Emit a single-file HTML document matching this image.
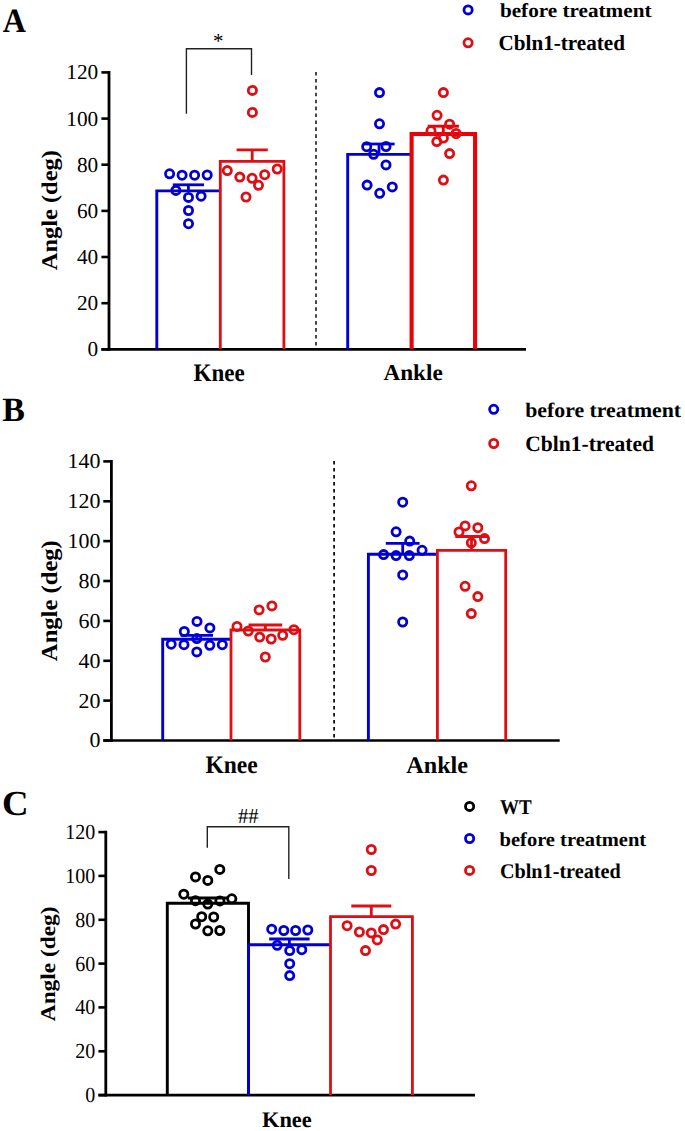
<!DOCTYPE html>
<html><head><meta charset="utf-8"><title>Figure</title>
<style>
html,body{margin:0;padding:0;background:#fff;}
body{width:685px;height:1131px;overflow:hidden;}
svg{display:block;}
text{font-family:"Liberation Serif",serif;fill:#000;text-rendering:geometricPrecision;}
</style></head>
<body>
<svg width="685" height="1131" viewBox="0 0 685 1131">
<rect width="685" height="1131" fill="#fff"/>
<text transform="translate(2.80 32.40) scale(1.0035 1.0672)" font-size="32" font-weight="bold">A</text>
<circle cx="468.1" cy="9.9" r="4.1" fill="none" stroke="#0000d6" stroke-width="2.8"/>
<circle cx="468.1" cy="42.8" r="4.1" fill="none" stroke="#dd0e14" stroke-width="2.8"/>
<text transform="translate(499.89 17.00) scale(1.0093 0.9403)" font-size="21" font-weight="bold">before treatment</text>
<text transform="translate(498.50 50.20) scale(1.0067 1.0323)" font-size="21" font-weight="bold">Cbln1-treated</text>
<line x1="109.0" y1="71.1" x2="109.0" y2="350.7" stroke="#000" stroke-width="2.8" />
<line x1="101.4" y1="349.3" x2="109.0" y2="349.3" stroke="#000" stroke-width="2.6" />
<line x1="101.4" y1="303.2" x2="109.0" y2="303.2" stroke="#000" stroke-width="2.6" />
<line x1="101.4" y1="257.0" x2="109.0" y2="257.0" stroke="#000" stroke-width="2.6" />
<line x1="101.4" y1="210.9" x2="109.0" y2="210.9" stroke="#000" stroke-width="2.6" />
<line x1="101.4" y1="164.7" x2="109.0" y2="164.7" stroke="#000" stroke-width="2.6" />
<line x1="101.4" y1="118.6" x2="109.0" y2="118.6" stroke="#000" stroke-width="2.6" />
<line x1="101.4" y1="72.4" x2="109.0" y2="72.4" stroke="#000" stroke-width="2.6" />
<text transform="translate(98.21 356.29) scale(1.02 1.02)" font-size="20.9" text-anchor="end">0</text>
<text transform="translate(98.21 310.14) scale(1.02 1.02)" font-size="20.9" text-anchor="end">20</text>
<text transform="translate(98.21 263.99) scale(1.02 1.02)" font-size="20.9" text-anchor="end">40</text>
<text transform="translate(98.21 217.84) scale(1.02 1.02)" font-size="20.9" text-anchor="end">60</text>
<text transform="translate(98.21 171.69) scale(1.02 1.02)" font-size="20.9" text-anchor="end">80</text>
<text transform="translate(98.21 125.54) scale(1.02 1.02)" font-size="20.9" text-anchor="end">100</text>
<text transform="translate(98.21 79.39) scale(1.02 1.02)" font-size="20.9" text-anchor="end">120</text>
<line x1="101.4" y1="349.3" x2="526.0" y2="349.3" stroke="#000" stroke-width="2.7" />
<text transform="translate(56.81 270.17) rotate(-90) scale(1.0169 0.9359)" font-size="24" font-weight="bold">Angle (deg)</text>
<line x1="316.0" y1="72.0" x2="316.0" y2="347.5" stroke="#333" stroke-width="1.8" stroke-dasharray="3.6 3.32"/>
<path d="M186.4 113.7 V48.7 H251.5 V74.9" fill="none" stroke="#222" stroke-width="1.4"/>
<text transform="translate(213.12 47.91) scale(1.0447 1.0678)" font-size="20" font-weight="normal">*</text>
<path d="M156.8 349.3 V190.9 H220.3" fill="none" stroke="#0000d6" stroke-width="2.9" stroke-linejoin="miter" stroke-linecap="butt"/>
<path d="M220.3 349.3 V161.3 H283.9 V349.3" fill="none" stroke="#dd0e14" stroke-width="2.8" stroke-linejoin="miter" stroke-linecap="butt"/>
<path d="M347.7 349.3 V154.4 H411.7" fill="none" stroke="#0000d6" stroke-width="2.9" stroke-linejoin="miter" stroke-linecap="butt"/>
<path d="M411.6 349.3 V134.0 H475.1 V349.3" fill="none" stroke="#ec0008" stroke-width="4.1" stroke-linejoin="miter" stroke-linecap="butt"/>
<line x1="172.8" y1="184.8" x2="204.0" y2="184.8" stroke="#0000d6" stroke-width="2.8" /><line x1="188.4" y1="184.8" x2="188.4" y2="190.9" stroke="#0000d6" stroke-width="2.8" />
<line x1="236.6" y1="149.9" x2="267.8" y2="149.9" stroke="#dd0e14" stroke-width="2.8" /><line x1="252.2" y1="149.9" x2="252.2" y2="161.3" stroke="#dd0e14" stroke-width="2.8" />
<line x1="363.4" y1="144.0" x2="394.6" y2="144.0" stroke="#0000d6" stroke-width="2.8" /><line x1="379.0" y1="144.0" x2="379.0" y2="154.4" stroke="#0000d6" stroke-width="2.8" />
<line x1="427.7" y1="126.2" x2="458.9" y2="126.2" stroke="#ec0008" stroke-width="2.9" /><line x1="443.3" y1="126.2" x2="443.3" y2="134.0" stroke="#ec0008" stroke-width="2.9" />
<circle cx="169.6" cy="173.8" r="4.1" fill="none" stroke="#0000d6" stroke-width="2.8"/>
<circle cx="182.1" cy="175.2" r="4.1" fill="none" stroke="#0000d6" stroke-width="2.8"/>
<circle cx="194.6" cy="175.2" r="4.1" fill="none" stroke="#0000d6" stroke-width="2.8"/>
<circle cx="207.2" cy="175.0" r="4.1" fill="none" stroke="#0000d6" stroke-width="2.8"/>
<circle cx="175.9" cy="190.4" r="4.1" fill="none" stroke="#0000d6" stroke-width="2.8"/>
<circle cx="188.5" cy="197.4" r="4.1" fill="none" stroke="#0000d6" stroke-width="2.8"/>
<circle cx="201.1" cy="196.2" r="4.1" fill="none" stroke="#0000d6" stroke-width="2.8"/>
<circle cx="188.5" cy="210.5" r="4.1" fill="none" stroke="#0000d6" stroke-width="2.8"/>
<circle cx="188.5" cy="223.7" r="4.1" fill="none" stroke="#0000d6" stroke-width="2.8"/>
<circle cx="379.5" cy="92.6" r="4.1" fill="none" stroke="#0000d6" stroke-width="2.8"/>
<circle cx="379.5" cy="123.8" r="4.1" fill="none" stroke="#0000d6" stroke-width="2.8"/>
<circle cx="366.7" cy="146.7" r="4.1" fill="none" stroke="#0000d6" stroke-width="2.8"/>
<circle cx="386.0" cy="146.5" r="4.1" fill="none" stroke="#0000d6" stroke-width="2.8"/>
<circle cx="373.6" cy="154.3" r="4.1" fill="none" stroke="#0000d6" stroke-width="2.8"/>
<circle cx="386.0" cy="164.9" r="4.1" fill="none" stroke="#0000d6" stroke-width="2.8"/>
<circle cx="367.1" cy="185.1" r="4.1" fill="none" stroke="#0000d6" stroke-width="2.8"/>
<circle cx="392.3" cy="186.9" r="4.1" fill="none" stroke="#0000d6" stroke-width="2.8"/>
<circle cx="379.7" cy="193.3" r="4.1" fill="none" stroke="#0000d6" stroke-width="2.8"/>
<circle cx="252.4" cy="90.4" r="4.1" fill="none" stroke="#dd0e14" stroke-width="2.8"/>
<circle cx="252.4" cy="112.4" r="4.1" fill="none" stroke="#dd0e14" stroke-width="2.8"/>
<circle cx="227.3" cy="170.6" r="4.1" fill="none" stroke="#dd0e14" stroke-width="2.8"/>
<circle cx="239.8" cy="177.1" r="4.1" fill="none" stroke="#dd0e14" stroke-width="2.8"/>
<circle cx="252.1" cy="178.3" r="4.1" fill="none" stroke="#dd0e14" stroke-width="2.8"/>
<circle cx="264.7" cy="174.7" r="4.1" fill="none" stroke="#dd0e14" stroke-width="2.8"/>
<circle cx="277.2" cy="169.0" r="4.1" fill="none" stroke="#dd0e14" stroke-width="2.8"/>
<circle cx="258.5" cy="185.3" r="4.1" fill="none" stroke="#dd0e14" stroke-width="2.8"/>
<circle cx="246.0" cy="197.0" r="4.1" fill="none" stroke="#dd0e14" stroke-width="2.8"/>
<circle cx="443.4" cy="92.6" r="4.1" fill="none" stroke="#dd0e14" stroke-width="2.8"/>
<circle cx="437.1" cy="115.3" r="4.1" fill="none" stroke="#dd0e14" stroke-width="2.8"/>
<circle cx="449.6" cy="124.2" r="4.1" fill="none" stroke="#dd0e14" stroke-width="2.8"/>
<circle cx="431.0" cy="130.8" r="4.1" fill="none" stroke="#dd0e14" stroke-width="2.8"/>
<circle cx="456.1" cy="133.5" r="4.1" fill="none" stroke="#dd0e14" stroke-width="2.8"/>
<circle cx="443.4" cy="138.0" r="4.1" fill="none" stroke="#dd0e14" stroke-width="2.8"/>
<circle cx="436.8" cy="141.6" r="4.1" fill="none" stroke="#dd0e14" stroke-width="2.8"/>
<circle cx="449.6" cy="153.6" r="4.1" fill="none" stroke="#dd0e14" stroke-width="2.8"/>
<circle cx="443.4" cy="180.1" r="4.1" fill="none" stroke="#dd0e14" stroke-width="2.8"/>
<text transform="translate(193.56 381.20) scale(1.0013 1.0936)" font-size="23" font-weight="bold">Knee</text>
<text transform="translate(383.45 380.41) scale(1.0087 0.9820)" font-size="23" font-weight="bold">Ankle</text>
<text transform="translate(2.34 421.20) scale(1.0604 1.0668)" font-size="32" font-weight="bold">B</text>
<circle cx="493.7" cy="409.3" r="4.1" fill="none" stroke="#0000d6" stroke-width="2.8"/>
<circle cx="493.7" cy="443.5" r="4.1" fill="none" stroke="#dd0e14" stroke-width="2.8"/>
<text transform="translate(525.17 416.80) scale(1.0139 0.9595)" font-size="21.5" font-weight="bold">before treatment</text>
<text transform="translate(525.24 451.00) scale(1.0016 1.0269)" font-size="21.5" font-weight="bold">Cbln1-treated</text>
<line x1="111.4" y1="460.1" x2="111.4" y2="741.9" stroke="#000" stroke-width="2.8" />
<line x1="103.3" y1="740.5" x2="111.4" y2="740.5" stroke="#000" stroke-width="2.6" />
<line x1="103.3" y1="700.6" x2="111.4" y2="700.6" stroke="#000" stroke-width="2.6" />
<line x1="103.3" y1="660.8" x2="111.4" y2="660.8" stroke="#000" stroke-width="2.6" />
<line x1="103.3" y1="620.9" x2="111.4" y2="620.9" stroke="#000" stroke-width="2.6" />
<line x1="103.3" y1="581.0" x2="111.4" y2="581.0" stroke="#000" stroke-width="2.6" />
<line x1="103.3" y1="541.1" x2="111.4" y2="541.1" stroke="#000" stroke-width="2.6" />
<line x1="103.3" y1="501.3" x2="111.4" y2="501.3" stroke="#000" stroke-width="2.6" />
<line x1="103.3" y1="461.4" x2="111.4" y2="461.4" stroke="#000" stroke-width="2.6" />
<text transform="translate(100.43 747.49) scale(1.03 1.0)" font-size="21.3" text-anchor="end">0</text>
<text transform="translate(100.43 707.61) scale(1.03 1.0)" font-size="21.3" text-anchor="end">20</text>
<text transform="translate(100.43 667.74) scale(1.03 1.0)" font-size="21.3" text-anchor="end">40</text>
<text transform="translate(100.43 627.87) scale(1.03 1.0)" font-size="21.3" text-anchor="end">60</text>
<text transform="translate(100.43 588.00) scale(1.03 1.0)" font-size="21.3" text-anchor="end">80</text>
<text transform="translate(100.43 548.13) scale(1.03 1.0)" font-size="21.3" text-anchor="end">100</text>
<text transform="translate(100.43 508.26) scale(1.03 1.0)" font-size="21.3" text-anchor="end">120</text>
<text transform="translate(100.43 468.39) scale(1.03 1.0)" font-size="21.3" text-anchor="end">140</text>
<line x1="103.3" y1="740.5" x2="559.7" y2="740.5" stroke="#000" stroke-width="2.7" />
<text transform="translate(57.24 661.14) rotate(-90) scale(1.0252 0.9520)" font-size="24" font-weight="bold">Angle (deg)</text>
<line x1="334.1" y1="461.0" x2="334.1" y2="739.0" stroke="#111" stroke-width="1.8" stroke-dasharray="3.6 3.4"/>
<path d="M162.7 740.5 V639.2 H231.0" fill="none" stroke="#0000d6" stroke-width="2.9" stroke-linejoin="miter" stroke-linecap="butt"/>
<path d="M231.0 740.5 V630.0 H299.8 V740.5" fill="none" stroke="#dd0e14" stroke-width="2.8" stroke-linejoin="miter" stroke-linecap="butt"/>
<path d="M368.4 740.5 V554.3 H437.4" fill="none" stroke="#0000d6" stroke-width="2.9" stroke-linejoin="miter" stroke-linecap="butt"/>
<path d="M437.4 740.5 V550.3 H505.7 V740.5" fill="none" stroke="#dd0e14" stroke-width="2.8" stroke-linejoin="miter" stroke-linecap="butt"/>
<line x1="180.6" y1="635.4" x2="213.0" y2="635.4" stroke="#0000d6" stroke-width="2.8" /><line x1="196.8" y1="635.4" x2="196.8" y2="639.2" stroke="#0000d6" stroke-width="2.8" />
<line x1="248.6" y1="625.0" x2="282.2" y2="625.0" stroke="#dd0e14" stroke-width="2.8" /><line x1="265.4" y1="625.0" x2="265.4" y2="630.0" stroke="#dd0e14" stroke-width="2.8" />
<line x1="385.8" y1="543.4" x2="419.6" y2="543.4" stroke="#0000d6" stroke-width="2.8" /><line x1="402.7" y1="543.4" x2="402.7" y2="554.3" stroke="#0000d6" stroke-width="2.8" />
<line x1="455.3" y1="536.5" x2="487.7" y2="536.5" stroke="#dd0e14" stroke-width="2.8" /><line x1="471.5" y1="536.5" x2="471.5" y2="550.3" stroke="#dd0e14" stroke-width="2.8" />
<circle cx="197.0" cy="621.4" r="4.1" fill="none" stroke="#0000d6" stroke-width="2.8"/>
<circle cx="184.3" cy="631.5" r="4.1" fill="none" stroke="#0000d6" stroke-width="2.8"/>
<circle cx="209.9" cy="627.9" r="4.1" fill="none" stroke="#0000d6" stroke-width="2.8"/>
<circle cx="196.8" cy="638.6" r="4.1" fill="none" stroke="#0000d6" stroke-width="2.8"/>
<circle cx="171.2" cy="644.2" r="4.1" fill="none" stroke="#0000d6" stroke-width="2.8"/>
<circle cx="184.0" cy="644.7" r="4.1" fill="none" stroke="#0000d6" stroke-width="2.8"/>
<circle cx="209.8" cy="645.3" r="4.1" fill="none" stroke="#0000d6" stroke-width="2.8"/>
<circle cx="222.3" cy="644.7" r="4.1" fill="none" stroke="#0000d6" stroke-width="2.8"/>
<circle cx="196.8" cy="651.9" r="4.1" fill="none" stroke="#0000d6" stroke-width="2.8"/>
<circle cx="402.7" cy="502.2" r="4.1" fill="none" stroke="#0000d6" stroke-width="2.8"/>
<circle cx="396.1" cy="531.8" r="4.1" fill="none" stroke="#0000d6" stroke-width="2.8"/>
<circle cx="409.7" cy="541.1" r="4.1" fill="none" stroke="#0000d6" stroke-width="2.8"/>
<circle cx="422.1" cy="550.3" r="4.1" fill="none" stroke="#0000d6" stroke-width="2.8"/>
<circle cx="383.6" cy="554.6" r="4.1" fill="none" stroke="#0000d6" stroke-width="2.8"/>
<circle cx="396.1" cy="555.6" r="4.1" fill="none" stroke="#0000d6" stroke-width="2.8"/>
<circle cx="409.3" cy="555.6" r="4.1" fill="none" stroke="#0000d6" stroke-width="2.8"/>
<circle cx="402.7" cy="574.9" r="4.1" fill="none" stroke="#0000d6" stroke-width="2.8"/>
<circle cx="402.7" cy="622.0" r="4.1" fill="none" stroke="#0000d6" stroke-width="2.8"/>
<circle cx="271.9" cy="605.9" r="4.1" fill="none" stroke="#dd0e14" stroke-width="2.8"/>
<circle cx="259.1" cy="609.9" r="4.1" fill="none" stroke="#dd0e14" stroke-width="2.8"/>
<circle cx="237.0" cy="626.4" r="4.1" fill="none" stroke="#dd0e14" stroke-width="2.8"/>
<circle cx="248.3" cy="631.0" r="4.1" fill="none" stroke="#dd0e14" stroke-width="2.8"/>
<circle cx="293.9" cy="629.7" r="4.1" fill="none" stroke="#dd0e14" stroke-width="2.8"/>
<circle cx="282.7" cy="635.3" r="4.1" fill="none" stroke="#dd0e14" stroke-width="2.8"/>
<circle cx="259.7" cy="637.1" r="4.1" fill="none" stroke="#dd0e14" stroke-width="2.8"/>
<circle cx="271.2" cy="639.0" r="4.1" fill="none" stroke="#dd0e14" stroke-width="2.8"/>
<circle cx="265.3" cy="657.0" r="4.1" fill="none" stroke="#dd0e14" stroke-width="2.8"/>
<circle cx="471.3" cy="485.8" r="4.1" fill="none" stroke="#dd0e14" stroke-width="2.8"/>
<circle cx="465.1" cy="525.9" r="4.1" fill="none" stroke="#dd0e14" stroke-width="2.8"/>
<circle cx="477.8" cy="527.7" r="4.1" fill="none" stroke="#dd0e14" stroke-width="2.8"/>
<circle cx="459.0" cy="532.0" r="4.1" fill="none" stroke="#dd0e14" stroke-width="2.8"/>
<circle cx="484.5" cy="538.6" r="4.1" fill="none" stroke="#dd0e14" stroke-width="2.8"/>
<circle cx="471.3" cy="542.8" r="4.1" fill="none" stroke="#dd0e14" stroke-width="2.8"/>
<circle cx="465.1" cy="586.3" r="4.1" fill="none" stroke="#dd0e14" stroke-width="2.8"/>
<circle cx="477.8" cy="596.6" r="4.1" fill="none" stroke="#dd0e14" stroke-width="2.8"/>
<circle cx="471.3" cy="613.6" r="4.1" fill="none" stroke="#dd0e14" stroke-width="2.8"/>
<text transform="translate(205.43 773.20) scale(1.0232 1.0936)" font-size="23" font-weight="bold">Knee</text>
<text transform="translate(406.21 773.00) scale(1.0518 1.0445)" font-size="23" font-weight="bold">Ankle</text>
<text transform="translate(1.90 815.40) scale(1.1498 1.0952)" font-size="32" font-weight="bold">C</text>
<circle cx="469.6" cy="806.4" r="4.1" fill="none" stroke="#000" stroke-width="2.8"/>
<circle cx="469.6" cy="838.5" r="4.1" fill="none" stroke="#0000d6" stroke-width="2.8"/>
<circle cx="469.6" cy="870.4" r="4.1" fill="none" stroke="#dd0e14" stroke-width="2.8"/>
<text transform="translate(500.11 813.60) scale(0.9499 1.0432)" font-size="20" font-weight="bold">WT</text>
<text transform="translate(499.56 846.21) scale(0.9998 0.9591)" font-size="20.5" font-weight="bold">before treatment</text>
<text transform="translate(499.88 877.80) scale(0.9856 1.0198)" font-size="20.5" font-weight="bold">Cbln1-treated</text>
<line x1="105.8" y1="830.8" x2="105.8" y2="1096.5" stroke="#000" stroke-width="2.8" />
<line x1="98.4" y1="1095.1" x2="105.8" y2="1095.1" stroke="#000" stroke-width="2.6" />
<line x1="98.4" y1="1051.3" x2="105.8" y2="1051.3" stroke="#000" stroke-width="2.6" />
<line x1="98.4" y1="1007.4" x2="105.8" y2="1007.4" stroke="#000" stroke-width="2.6" />
<line x1="98.4" y1="963.6" x2="105.8" y2="963.6" stroke="#000" stroke-width="2.6" />
<line x1="98.4" y1="919.8" x2="105.8" y2="919.8" stroke="#000" stroke-width="2.6" />
<line x1="98.4" y1="875.9" x2="105.8" y2="875.9" stroke="#000" stroke-width="2.6" />
<line x1="98.4" y1="832.1" x2="105.8" y2="832.1" stroke="#000" stroke-width="2.6" />
<text transform="translate(95.26 1102.12) scale(1.0 1.07)" font-size="20.0" text-anchor="end">0</text>
<text transform="translate(95.26 1058.29) scale(1.0 1.07)" font-size="20.0" text-anchor="end">20</text>
<text transform="translate(95.26 1014.45) scale(1.0 1.07)" font-size="20.0" text-anchor="end">40</text>
<text transform="translate(95.26 970.62) scale(1.0 1.07)" font-size="20.0" text-anchor="end">60</text>
<text transform="translate(95.26 926.79) scale(1.0 1.07)" font-size="20.0" text-anchor="end">80</text>
<text transform="translate(95.26 882.95) scale(1.0 1.07)" font-size="20.0" text-anchor="end">100</text>
<text transform="translate(95.26 839.12) scale(1.0 1.07)" font-size="20.0" text-anchor="end">120</text>
<line x1="98.4" y1="1095.1" x2="475.0" y2="1095.1" stroke="#000" stroke-width="2.7" />
<text transform="translate(54.69 1021.22) rotate(-90) scale(1.0145 0.9111)" font-size="23" font-weight="bold">Angle (deg)</text>
<path d="M207.3 847.8 V826.8 H288.8 V878.9" fill="none" stroke="#222" stroke-width="1.4"/>
<text transform="translate(238.03 823.16) scale(1.0806 1.1248)" font-size="19" font-weight="normal">##</text>
<path d="M167.3 1095.1 V903.3 H248.5 V1095.1" fill="none" stroke="#000" stroke-width="2.9" stroke-linejoin="miter" stroke-linecap="butt"/>
<path d="M248.5 1095.1 V944.7 H330.3" fill="none" stroke="#0000d6" stroke-width="2.9" stroke-linejoin="miter" stroke-linecap="butt"/>
<path d="M330.5 1095.1 V916.7 H412.4 V1095.1" fill="none" stroke="#dd0e14" stroke-width="2.8" stroke-linejoin="miter" stroke-linecap="butt"/>
<line x1="187.8" y1="898.0" x2="227.8" y2="898.0" stroke="#000" stroke-width="2.9" /><line x1="207.8" y1="898.0" x2="207.8" y2="903.3" stroke="#000" stroke-width="2.9" />
<line x1="269.2" y1="939.0" x2="309.6" y2="939.0" stroke="#0000d6" stroke-width="2.8" /><line x1="289.4" y1="939.0" x2="289.4" y2="944.7" stroke="#0000d6" stroke-width="2.8" />
<line x1="351.3" y1="906.0" x2="391.3" y2="906.0" stroke="#dd0e14" stroke-width="2.8" /><line x1="371.3" y1="906.0" x2="371.3" y2="916.7" stroke="#dd0e14" stroke-width="2.8" />
<circle cx="219.8" cy="869.4" r="4.1" fill="none" stroke="#000" stroke-width="2.8"/>
<circle cx="195.5" cy="876.9" r="4.1" fill="none" stroke="#000" stroke-width="2.8"/>
<circle cx="207.8" cy="880.4" r="4.1" fill="none" stroke="#000" stroke-width="2.8"/>
<circle cx="183.8" cy="894.2" r="4.1" fill="none" stroke="#000" stroke-width="2.8"/>
<circle cx="195.5" cy="900.7" r="4.1" fill="none" stroke="#000" stroke-width="2.8"/>
<circle cx="207.8" cy="904.1" r="4.1" fill="none" stroke="#000" stroke-width="2.8"/>
<circle cx="219.9" cy="900.9" r="4.1" fill="none" stroke="#000" stroke-width="2.8"/>
<circle cx="231.8" cy="898.8" r="4.1" fill="none" stroke="#000" stroke-width="2.8"/>
<circle cx="201.7" cy="916.7" r="4.1" fill="none" stroke="#000" stroke-width="2.8"/>
<circle cx="213.7" cy="917.0" r="4.1" fill="none" stroke="#000" stroke-width="2.8"/>
<circle cx="195.5" cy="924.0" r="4.1" fill="none" stroke="#000" stroke-width="2.8"/>
<circle cx="207.8" cy="930.8" r="4.1" fill="none" stroke="#000" stroke-width="2.8"/>
<circle cx="219.8" cy="930.5" r="4.1" fill="none" stroke="#000" stroke-width="2.8"/>
<circle cx="271.7" cy="929.2" r="4.1" fill="none" stroke="#0000d6" stroke-width="2.8"/>
<circle cx="283.8" cy="930.5" r="4.1" fill="none" stroke="#0000d6" stroke-width="2.8"/>
<circle cx="295.6" cy="930.5" r="4.1" fill="none" stroke="#0000d6" stroke-width="2.8"/>
<circle cx="307.8" cy="930.0" r="4.1" fill="none" stroke="#0000d6" stroke-width="2.8"/>
<circle cx="277.2" cy="945.3" r="4.1" fill="none" stroke="#0000d6" stroke-width="2.8"/>
<circle cx="289.7" cy="950.6" r="4.1" fill="none" stroke="#0000d6" stroke-width="2.8"/>
<circle cx="301.8" cy="949.7" r="4.1" fill="none" stroke="#0000d6" stroke-width="2.8"/>
<circle cx="289.7" cy="963.7" r="4.1" fill="none" stroke="#0000d6" stroke-width="2.8"/>
<circle cx="289.7" cy="975.6" r="4.1" fill="none" stroke="#0000d6" stroke-width="2.8"/>
<circle cx="371.3" cy="849.5" r="4.1" fill="none" stroke="#dd0e14" stroke-width="2.8"/>
<circle cx="371.3" cy="870.5" r="4.1" fill="none" stroke="#dd0e14" stroke-width="2.8"/>
<circle cx="347.1" cy="925.7" r="4.1" fill="none" stroke="#dd0e14" stroke-width="2.8"/>
<circle cx="359.4" cy="932.0" r="4.1" fill="none" stroke="#dd0e14" stroke-width="2.8"/>
<circle cx="371.3" cy="932.9" r="4.1" fill="none" stroke="#dd0e14" stroke-width="2.8"/>
<circle cx="383.5" cy="929.6" r="4.1" fill="none" stroke="#dd0e14" stroke-width="2.8"/>
<circle cx="395.6" cy="924.1" r="4.1" fill="none" stroke="#dd0e14" stroke-width="2.8"/>
<circle cx="377.3" cy="939.9" r="4.1" fill="none" stroke="#dd0e14" stroke-width="2.8"/>
<circle cx="365.5" cy="950.6" r="4.1" fill="none" stroke="#dd0e14" stroke-width="2.8"/>
<text transform="translate(261.98 1127.40) scale(1.0167 1.0125)" font-size="22" font-weight="bold">Knee</text>
</svg>
</body></html>
